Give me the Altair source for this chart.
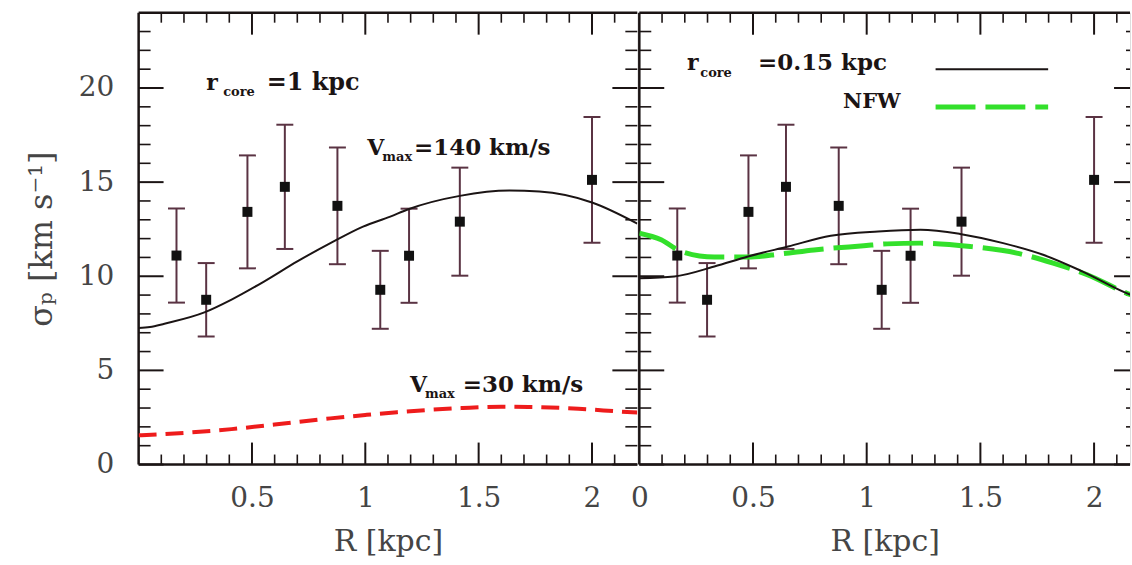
import altair as alt
import pandas as pd

# ---------------- data ----------------
R_kpc = [0.167, 0.298, 0.480, 0.645, 0.877, 1.066, 1.193, 1.417, 2.000]
sigma_p = [11.10, 8.75, 13.42, 14.75, 13.74, 9.28, 11.09, 12.90, 15.12]
sigma_err = [2.50, 1.95, 3.00, 3.30, 3.10, 2.07, 2.50, 2.87, 3.34]

# left panel, r_core = 1 kpc
vmax140_R = [0.0, 0.05, 0.114, 0.29, 0.408, 0.553, 0.70, 0.846, 0.99, 1.11, 1.19,
             1.417, 1.636, 1.768, 2.0, 2.2]
vmax140_s = [7.25, 7.30, 7.48, 8.08, 8.75, 9.72, 10.79, 11.76, 12.64, 13.17, 13.56,
             14.27, 14.55, 14.50, 13.92, 12.80]
vmax30_R = [0.0, 0.2, 0.41, 0.6, 0.846, 1.0, 1.14, 1.43, 1.6, 1.72, 1.94, 2.13, 2.2]
vmax30_s = [1.55, 1.68, 1.88, 2.12, 2.45, 2.63, 2.78, 3.00, 3.07, 3.06, 2.96, 2.81, 2.76]

# right panel, r_core = 0.15 kpc and NFW
core015_R = [0.0, 0.154, 0.33, 0.478, 0.654, 0.842, 1.05, 1.237, 1.41, 1.60, 1.776,
             1.95, 2.16, 2.2]
core015_s = [9.90, 9.99, 10.52, 11.05, 11.58, 12.15, 12.38, 12.47, 12.25, 11.76, 11.14,
             10.25, 9.02, 8.85]
nfw_R = [0.0, 0.096, 0.184, 0.33, 0.478, 0.623, 0.768, 0.987, 1.09, 1.237, 1.456,
         1.66, 1.82, 1.97, 2.16, 2.2]
nfw_s = [12.29, 11.94, 11.32, 11.02, 11.02, 11.19, 11.40, 11.62, 11.72, 11.76, 11.58,
         11.23, 10.70, 10.08, 9.02, 8.85]

# legend sample lines (right panel)
legend_R = [1.303, 1.798]
legend_core_s = [21.0, 21.0]
legend_nfw_s = [18.99, 18.99]

# tick values
y_major = [0, 5, 10, 15, 20]
y_minor = [1, 2, 3, 4, 6, 7, 8, 9, 11, 12, 13, 14, 16, 17, 18, 19, 21, 22, 23]
x_major = [0.5, 1.0, 1.5, 2.0]
x_minor = [0.1, 0.2, 0.3, 0.4, 0.6, 0.7, 0.8, 0.9, 1.1, 1.2, 1.3, 1.4, 1.6, 1.7,
           1.8, 1.9, 2.1]
left_x_labels = [0.5, 1, 1.5, 2]
right_x_labels = [0, 0.5, 1, 1.5, 2]

# ---------------- styling ----------------
W_L, W_R, H = 500, 492, 453
FONT = "DejaVu Serif"
INK = "#1b1414"
GREY = "#454545"
ERRC = "#5a3343"
RED = "#ee1c1c"
GREEN = "#33e02b"

pts = pd.DataFrame({"R": R_kpc, "s": sigma_p, "e": sigma_err})
pts["lo"] = pts["s"] - pts["e"]
pts["hi"] = pts["s"] + pts["e"]
one = pd.DataFrame({"k": [0]})


class Panel:
    def __init__(self, width, xmax, xlabels, show_y):
        self.width = width
        self.xs = alt.Scale(domain=[0, xmax], nice=False, zero=False)
        self.ys = alt.Scale(domain=[0, 24], nice=False, zero=False)
        self.xa = alt.Axis(values=xlabels, format="~g", title="R [kpc]", ticks=False,
                           domain=False, grid=False, labelFlush=False, labelOverlap=False,
                           labelPadding=20, titlePadding=14, labelFontSize=28,
                           titleFontSize=30, labelFont=FONT, titleFont=FONT,
                           labelColor=GREY, titleColor=GREY, titleFontWeight="normal")
        if show_y:
            self.ya = alt.Axis(values=y_major, format="d", title="σₚ [km s⁻¹]",
                               ticks=False, domain=False, grid=False, labelPadding=25,
                               titlePadding=20, labelFontSize=28, titleFontSize=32,
                               labelFont=FONT, titleFont=FONT, labelColor=GREY,
                               titleColor=GREY, titleFontWeight="normal")
        else:
            self.ya = None
        self.layers = []

    def X(self, f):
        return alt.X(f, scale=self.xs, axis=self.xa)

    def Y(self, f):
        return alt.Y(f, scale=self.ys, axis=self.ya)

    def data_marks(self):
        bars = alt.Chart(pts).mark_rule(color=ERRC, strokeWidth=2).encode(
            x=self.X("R:Q"), y=self.Y("lo:Q"), y2="hi:Q")
        caps_lo = alt.Chart(pts).mark_tick(orient="horizontal", size=17, thickness=2,
                                           color=ERRC, opacity=1).encode(
            x=self.X("R:Q"), y=self.Y("lo:Q"))
        caps_hi = alt.Chart(pts).mark_tick(orient="horizontal", size=17, thickness=2,
                                           color=ERRC, opacity=1).encode(
            x=self.X("R:Q"), y=self.Y("hi:Q"))
        squares = alt.Chart(pts).mark_square(size=100, color="#111111", opacity=1).encode(
            x=self.X("R:Q"), y=self.Y("s:Q"))
        self.layers += [bars, caps_lo, caps_hi, squares]

    def curve(self, xv, yv, **mk):
        df = pd.DataFrame({"R": xv, "s": yv})
        self.layers.append(alt.Chart(df).mark_line(
            clip=True, interpolate="monotone", **mk).encode(
            x=self.X("R:Q"), y=self.Y("s:Q")))

    def label(self, text, x, y, size, align="left"):
        self.layers.append(alt.Chart(one).mark_text(
            text=text, align=align, baseline="alphabetic", font=FONT,
            fontWeight="bold", fontSize=size, color=INK,
        ).encode(
            x=alt.XDatum(x, scale=self.xs, axis=self.xa),
            y=alt.YDatum(y, scale=self.ys, axis=self.ya),
        ))

    def yticks(self, vals, x0, x1, sw):
        self.layers.append(alt.Chart(pd.DataFrame({"v": vals})).mark_rule(
            color=INK, strokeWidth=sw).encode(
            y=self.Y("v:Q"), x=alt.value(x0), x2=alt.value(x1)))

    def xticks(self, vals, y0, y1, sw):
        self.layers.append(alt.Chart(pd.DataFrame({"v": vals})).mark_rule(
            color=INK, strokeWidth=sw).encode(
            x=self.X("v:Q"), y=alt.value(y0), y2=alt.value(y1)))

    def frame_h(self, ypix):
        self.layers.append(alt.Chart(one).mark_rule(color=INK, strokeWidth=2.5).encode(
            x=alt.value(0), x2=alt.value(self.width), y=alt.value(ypix)))

    def frame_v(self, xpix):
        self.layers.append(alt.Chart(one).mark_rule(color=INK, strokeWidth=2.5).encode(
            x=alt.value(xpix), y=alt.value(0), y2=alt.value(H)))

    def common(self):
        self.data_marks()
        self.yticks(y_major, 0, 25, 2)
        self.yticks(y_minor, 0, 12, 1.6)
        self.xticks(x_major, H, H - 22, 2)
        self.xticks(x_minor, H, H - 10, 1.6)
        self.xticks(x_major, 0, 22, 2)
        self.xticks(x_minor, 0, 10, 1.6)
        self.frame_h(0)
        self.frame_h(H)
        self.frame_v(0)

    def chart(self):
        return alt.layer(*self.layers).properties(width=self.width, height=H)


# ---------------- left panel ----------------
L = Panel(W_L, 2.2, left_x_labels, True)
L.common()
L.yticks(y_major, W_L - 25, W_L, 2)
L.yticks(y_minor, W_L - 12, W_L, 1.6)
L.curve(vmax140_R, vmax140_s, color=INK, strokeWidth=2)
L.curve(vmax30_R, vmax30_s, color=RED, strokeWidth=4, strokeDash=[18, 9])
L.label("r", 0.298, 19.9, 22)
L.label("core", 0.373, 19.55, 13)
L.label("=1 kpc", 0.565, 19.9, 24)
L.label("V", 1.009, 16.45, 22)
L.label("max", 1.075, 16.12, 13)
L.label("=140 km/s", 1.215, 16.45, 23)
L.label("V", 1.197, 3.87, 22)
L.label("max", 1.263, 3.55, 13)
L.label("=30 km/s", 1.43, 3.87, 23)

# ---------------- right panel ----------------
Rp = Panel(W_R, 2.158, right_x_labels, False)
Rp.common()
Rp.yticks(y_major, W_R - 16, W_R, 2)
Rp.yticks(y_minor, W_R - 4, W_R, 1.6)
Rp.curve(nfw_R, nfw_s, color=GREEN, strokeWidth=5, strokeDash=[40, 10])
Rp.curve(core015_R, core015_s, color=INK, strokeWidth=2)
Rp.curve(legend_R, legend_core_s, color=INK, strokeWidth=2)
Rp.curve(legend_R, legend_nfw_s, color=GREEN, strokeWidth=5, strokeDash=[40, 10])
Rp.label("r", 0.21, 20.95, 22)
Rp.label("core", 0.268, 20.6, 13)
Rp.label("=0.15 kpc", 0.522, 20.95, 23)
Rp.label("NFW", 1.149, 18.94, 21, align="right")

chart = (
    alt.hconcat(L.chart(), Rp.chart(), spacing=-10)
    .properties(padding={"left": 24, "top": 10, "right": 0, "bottom": 0})
    .configure_view(stroke="transparent")
    .configure(background="white")
)

chart.save("out.html", embed_options={"renderer": "svg", "actions": False})
